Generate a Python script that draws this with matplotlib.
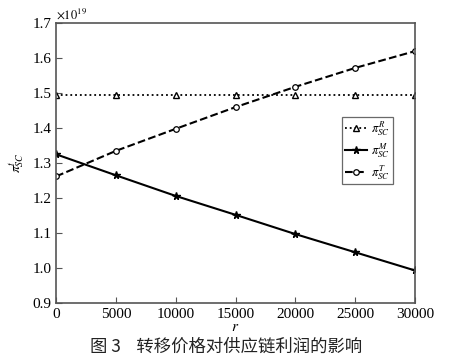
import numpy as np
import matplotlib.pyplot as plt

plt.rcParams['font.family'] = ['Liberation Serif', 'DejaVu Serif']
plt.rcParams['mathtext.fontset'] = 'stix'

r = [0, 5000, 10000, 15000, 20000, 25000, 30000]
pi_R = [1.495, 1.495, 1.495, 1.495, 1.495, 1.495, 1.495]
pi_M = [1.325, 1.265, 1.206, 1.152, 1.097, 1.045, 0.993]
pi_T = [1.262, 1.335, 1.398, 1.460, 1.518, 1.572, 1.620]

fig = plt.figure(figsize=(4.53, 3.62), dpi=100)
ax = fig.add_axes([0.124, 0.163, 0.792, 0.773])

ax.plot(r, pi_R, color='black', linestyle=':', linewidth=1.3, marker='^',
        markersize=4.5, markerfacecolor='white', markeredgewidth=1.0, label=r'$\pi^{R}_{SC}$')
ax.plot(r, pi_M, color='black', linestyle='-', linewidth=1.5, marker='*',
        markersize=5.5, label=r'$\pi^{M}_{SC}$')
ax.plot(r, pi_T, color='black', linestyle='--', linewidth=1.5, marker='o',
        markersize=4, markerfacecolor='white', markeredgewidth=0.9, label=r'$\pi^{T}_{SC}$')

ax.set_xlim(0, 30000)
ax.set_ylim(0.9, 1.7)
ax.set_xticks([0, 5000, 10000, 15000, 20000, 25000, 30000])
ax.set_yticks([0.9, 1.0, 1.1, 1.2, 1.3, 1.4, 1.5, 1.6, 1.7])
ax.set_yticklabels(['0.9', '1.0', '1.1', '1.2', '1.3', '1.4', '1.5', '1.6', '1.7'])
ax.tick_params(direction='in', labelsize=11, length=4, color='#555555')
for s in ax.spines.values():
    s.set_color('#555555')
    s.set_linewidth(1.2)

ax.set_xlabel(r'$r$', fontsize=11, labelpad=0)
ax.set_ylabel(r'$\pi^{t}_{SC}$', fontsize=10, labelpad=4)
ax.text(0.0, 1.005, r'$\times10^{19}$', transform=ax.transAxes, fontsize=9, va='bottom', ha='left')

leg = ax.legend(loc='upper left', bbox_to_anchor=(0.797, 0.665), fontsize=9, frameon=True,
                fancybox=False, edgecolor='#444444', handlelength=1.8, borderpad=0.2,
                labelspacing=0.25, handletextpad=0.35, borderaxespad=0)
leg.get_frame().set_linewidth(0.9)

fig.text(0.5, 0.018, '图 3    转移价格对供应链利润的影响', ha='center', va='bottom',
         fontsize=12.5, family=['Noto Sans CJK SC', 'DejaVu Sans'], fontweight='medium', color='#222222')

fig.savefig('out.png', dpi=100)
